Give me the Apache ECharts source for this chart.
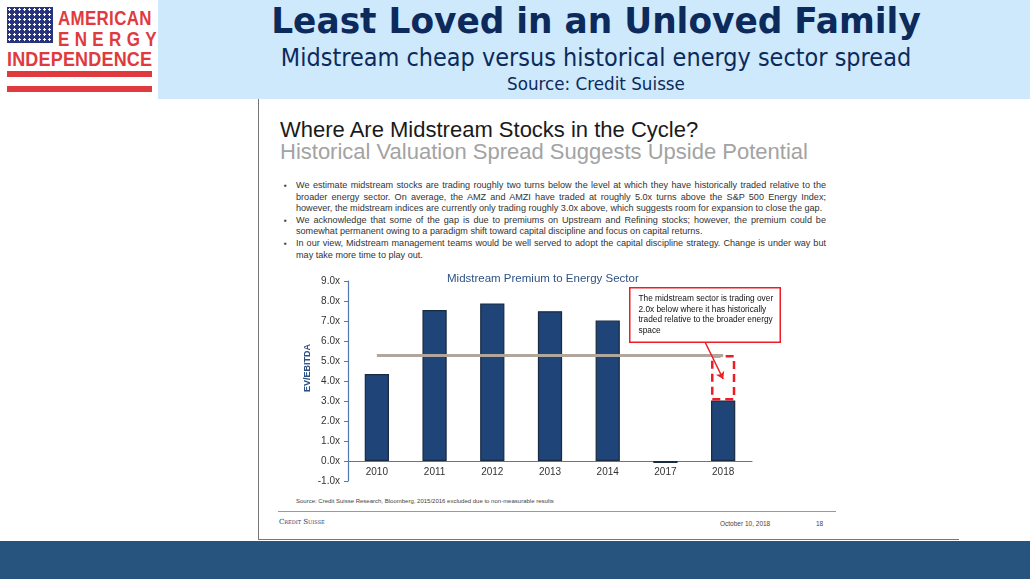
<!DOCTYPE html>
<html>
<head>
<meta charset="utf-8">
<script src="https://cdn.jsdelivr.net/npm/echarts@6/dist/echarts.min.js"></script>
<style>
  html, body { margin:0; padding:0; width:1030px; height:579px; overflow:hidden; background:#fff; font-family:"Liberation Sans", Arial, sans-serif; }
  .abs { position:absolute; }
  #header { left:158px; top:0; width:872px; height:99px; background:#cde9fb; }
  #title { left:158px; top:0px; width:876px; text-align:center; font-family:"DejaVu Sans"; font-weight:bold; font-size:36px; color:#0c2a5c; white-space:nowrap; transform:scaleX(0.955); }
  #subtitle { left:158px; top:44px; width:876px; text-align:center; font-family:"DejaVu Sans"; font-size:24px; color:#0c2a5c; white-space:nowrap; transform:scaleX(0.935); }
  #source { left:158px; top:74px; width:876px; text-align:center; font-family:"DejaVu Sans"; font-size:17px; color:#0c2a5c; white-space:nowrap; transform:scaleX(0.985); }
  #slide { left:258px; top:99px; width:700px; height:440px; border-left:1.5px solid #777; border-bottom:1.5px solid #777; }
  #band { left:0; top:541px; width:1030px; height:38px; background:#26547f; }
  #h1 { left:280px; top:117px; font-size:22px; color:#1a1a1a; white-space:nowrap; }
  #h2 { left:280px; top:139px; font-size:22px; color:#a3a3a3; white-space:nowrap; }
  #bullets { left:284px; top:180px; width:542px; font-size:9.1px; line-height:11.6px; color:#333; margin:0; padding:0; list-style:none; }
  #bullets li { position:relative; padding-left:12px; text-align:justify; }
  #bullets li:before { content:"\25AA"; position:absolute; left:0; top:0; font-size:8px; }
  #foot { left:296px; top:498px; font-size:6px; color:#444; white-space:nowrap; }
  #rule { left:278px; top:511px; width:558px; height:0; border-top:1px solid #999; }
  #cs { left:279px; top:518px; font-family:"DejaVu Serif", serif; font-size:7px; color:#1f3b6d; font-variant:small-caps; white-space:nowrap; }
  #date { left:720px; top:520px; font-size:6.5px; color:#444; }
  #page { left:816px; top:520px; font-size:6.5px; color:#444; }
  #logo { left:0; top:0; width:158px; height:99px; background:#fff; }
  .flag { left:7px; top:7px; width:46px; height:36px; background:#28347c; background-image:radial-gradient(circle, #fff 1.1px, transparent 1.3px); background-size:5px 5px; }
  .lg { color:#e03a3e; font-weight:bold; white-space:nowrap; font-family:"Liberation Sans", Arial, sans-serif; transform-origin:0 0; }
  .bar { left:7px; width:145px; height:6px; background:#e03a3e; }
  #chart { left:0; top:0; width:1030px; height:579px; }
</style>
</head>
<body>
<div id="header" class="abs"></div>
<div id="title" class="abs">Least Loved in an Unloved Family</div>
<div id="subtitle" class="abs">Midstream cheap versus historical energy sector spread</div>
<div id="source" class="abs">Source: Credit Suisse</div>

<div id="logo" class="abs">
  <div class="flag abs"></div>
  <div class="lg abs" style="left:58px;top:7px;font-size:20px;letter-spacing:0.4px;transform:scaleX(0.845);">AMERICAN</div>
  <div class="lg abs" style="left:58px;top:28px;font-size:20px;letter-spacing:6.3px;transform:scaleX(0.85);">ENERGY</div>
  <div class="lg abs" style="left:7px;top:48px;font-size:20px;letter-spacing:0.2px;transform:scaleX(0.9);">INDEPENDENCE</div>
  <div class="bar abs" style="top:71px;"></div>
  <div class="bar abs" style="top:86px;"></div>
</div>

<div id="slide" class="abs"></div>
<div id="h1" class="abs">Where Are Midstream Stocks in the Cycle?</div>
<div id="h2" class="abs">Historical Valuation Spread Suggests Upside Potential</div>
<ul id="bullets" class="abs">
  <li>We estimate midstream stocks are trading roughly two turns below the level at which they have historically traded relative to the broader energy sector. On average, the AMZ and AMZI have traded at roughly 5.0x turns above the S&amp;P 500 Energy Index; however, the midstream indices are currently only trading roughly 3.0x above, which suggests room for expansion to close the gap.</li>
  <li>We acknowledge that some of the gap is due to premiums on Upstream and Refining stocks; however, the premium could be somewhat permanent owing to a paradigm shift toward capital discipline and focus on capital returns.</li>
  <li>In our view, Midstream management teams would be well served to adopt the capital discipline strategy. Change is under way but may take more time to play out.</li>
</ul>
<div id="foot" class="abs">Source: Credit Suisse Research, Bloomberg, 2015/2016 excluded due to non-measurable results</div>
<div id="rule" class="abs"></div>
<div id="cs" class="abs">Credit Suisse</div>
<div id="date" class="abs">October 10, 2018</div>
<div id="page" class="abs">18</div>
<div id="band" class="abs"></div>

<div id="chart" class="abs"></div>
<script>
// 数据
const years = ['2010', '2011', '2012', '2013', '2014', '2017', '2018'];
const premium = [4.35, 7.55, 7.88, 7.49, 7.02, -0.1, 3.03];
const historicalAvg = 5.3;
const yMin = -1, yMax = 9, yStep = 1;

// 2018 与历史均值之间的缺口（虚线框）
const gap = years.map((y, i) => i === years.length - 1 ? historicalAvg - premium[i] : null);

// 绘图区
const gridTop = 281, gridBottom = 98, plotH = 579 - gridTop - gridBottom;
// x 轴放在 0 线上（标签跟着走）
const xOffset = -plotH * (0 - yMin) / (yMax - yMin);

let myChart = echarts.init(document.getElementById('chart'), null, { renderer: 'canvas' });
myChart.setOption({
  animation: false,
  backgroundColor: 'transparent',
  title: {
    text: 'Midstream Premium to Energy Sector',
    left: 442, top: 268,
    textStyle: { fontFamily: 'Liberation Sans', fontSize: 11.5, fontWeight: 'normal', color: '#2e5286' }
  },
  grid: { left: 348, right: 278, top: gridTop, bottom: gridBottom },
  xAxis: {
    type: 'category',
    data: years,
    offset: xOffset,
    axisLine: { onZero: false, lineStyle: { color: '#4f79b0', width: 1.2 } },
    axisTick: { length: 4, lineStyle: { color: '#4f79b0' } },
    axisLabel: { color: '#333', fontFamily: 'Liberation Sans', fontSize: 10, margin: 6 }
  },
  yAxis: {
    type: 'value',
    min: yMin, max: yMax, interval: yStep,
    name: 'EV/EBITDA',
    nameLocation: 'middle',
    nameGap: 36,
    nameRotate: 90,
    nameTextStyle: { color: '#2a4f80', fontFamily: 'Liberation Sans', fontSize: 9, fontWeight: 'bold', padding: [0, 0, 0, 26] },
    axisLine: { show: true, lineStyle: { color: '#4f79b0', width: 1.2 } },
    axisTick: { show: true, length: 4, lineStyle: { color: '#4f79b0' } },
    splitLine: { show: false },
    axisLabel: {
      color: '#333', fontFamily: 'Liberation Sans', fontSize: 10, margin: 8,
      formatter: v => v.toFixed(1) + 'x'
    }
  },
  series: [
    {
      name: 'Premium',
      type: 'bar',
      stack: 'p',
      data: premium,
      barWidth: '42%',
      itemStyle: { color: '#1f4477', borderColor: '#1a2a40', borderWidth: 1.2 },
      markLine: {
        silent: true,
        symbol: 'none',
        label: { show: false },
        lineStyle: { color: '#b0a69c', type: 'solid', width: 3 },
        data: [[{ coord: [years[0], historicalAvg] }, { coord: [years[years.length - 1], historicalAvg] }]]
      }
    },
    {
      name: 'Gap',
      type: 'bar',
      stack: 'p',
      data: gap,
      barWidth: '42%',
      z: 3,
      itemStyle: { color: 'rgba(0,0,0,0)', borderColor: '#ee1c25', borderWidth: 2.5, borderType: [8, 5] },
      markLine: {
        silent: true,
        symbol: ['none', 'arrow'],
        symbolSize: 7,
        label: { show: false },
        lineStyle: { color: '#ee1c25', type: 'solid', width: 1.5 },
        data: [[{ x: 705, y: 342 }, { coord: [years[years.length - 1], 4.1] }]]
      }
    }
  ],
  graphic: [
    {
      type: 'text',
      left: 629, top: 287, z: 100,
      style: {
        text: 'The midstream sector is trading over\n2.0x below where it has historically\ntraded relative to the broader energy\nspace',
        fill: '#111',
        font: '8.3px "Liberation Sans"',
        lineHeight: 10.5,
        backgroundColor: '#fff',
        borderColor: '#ee1c25',
        borderWidth: 1.5,
        padding: [5, 8, 6, 8],
        width: 133
      }
    }
  ]
});
</script>
</body>
</html>
